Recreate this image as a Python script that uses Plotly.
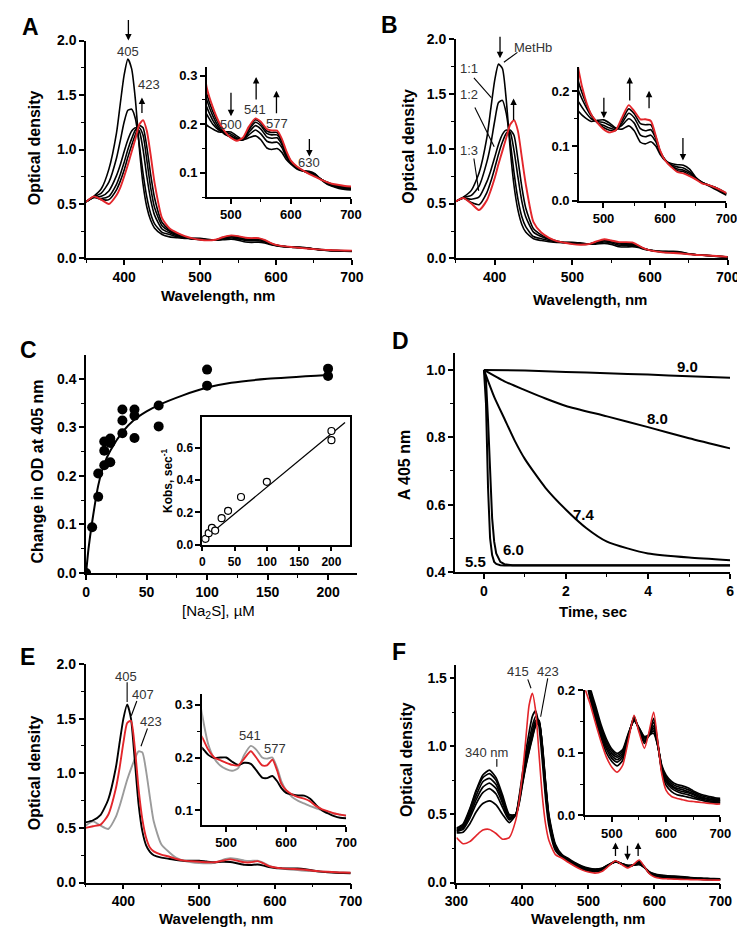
import plotly.graph_objects as go

W, H = 745, 930
FONT = "Liberation Sans, Arial, sans-serif"
RED = "#e3262b"
GRAY = "#9b9b9b"

# ---------------- data ----------------
WL = [350, 360, 370, 380, 390, 395, 400, 405, 410, 415, 420, 425, 430, 435, 440, 450,
      460, 470, 480, 490, 500, 510, 520, 530, 541, 550, 560, 568, 577, 585, 592,
      600, 610, 620, 630, 640, 650, 660, 670, 680, 690, 700]

# Panel A spectra (MetHb -> sulfide-bound)
A1 = [0.52, 0.57, 0.64, 0.82, 1.15, 1.42, 1.68, 1.83, 1.74, 1.45, 1.02, 0.68, 0.47, 0.35, 0.28, 0.22,
      0.198, 0.19, 0.184, 0.184, 0.184, 0.176, 0.168, 0.172, 0.176, 0.168, 0.151, 0.148, 0.150, 0.142, 0.128,
      0.118, 0.108, 0.104, 0.103, 0.098, 0.086, 0.077, 0.072, 0.068, 0.066, 0.065]
A2 = [0.52, 0.565, 0.60, 0.70, 0.92, 1.08, 1.25, 1.36, 1.37, 1.28, 1.05, 0.78, 0.56, 0.41, 0.32, 0.24,
      0.22, 0.20, 0.188, 0.183, 0.18, 0.172, 0.168, 0.178, 0.188, 0.18, 0.165, 0.162, 0.163, 0.152, 0.133,
      0.12, 0.109, 0.104, 0.102, 0.097, 0.087, 0.078, 0.073, 0.07, 0.068, 0.067]
A3 = [0.52, 0.56, 0.57, 0.62, 0.76, 0.86, 0.98, 1.09, 1.17, 1.20, 1.17, 1.00, 0.75, 0.54, 0.40, 0.27,
      0.235, 0.208, 0.19, 0.18, 0.176, 0.17, 0.168, 0.183, 0.197, 0.19, 0.174, 0.171, 0.172, 0.158, 0.137,
      0.121, 0.11, 0.104, 0.101, 0.095, 0.087, 0.079, 0.074, 0.071, 0.069, 0.068]
A4 = [0.52, 0.56, 0.55, 0.57, 0.68, 0.77, 0.88, 1.00, 1.10, 1.18, 1.20, 1.13, 0.90, 0.65, 0.47, 0.30,
      0.25, 0.217, 0.194, 0.179, 0.174, 0.168, 0.168, 0.188, 0.204, 0.197, 0.181, 0.178, 0.178, 0.163, 0.14,
      0.122, 0.111, 0.104, 0.10, 0.094, 0.087, 0.08, 0.075, 0.072, 0.07, 0.069]
A5 = [0.52, 0.565, 0.54, 0.54, 0.63, 0.71, 0.81, 0.93, 1.04, 1.14, 1.22, 1.20, 1.02, 0.77, 0.56, 0.33,
      0.262, 0.226, 0.20, 0.181, 0.173, 0.167, 0.17, 0.192, 0.209, 0.202, 0.186, 0.183, 0.183, 0.167, 0.143,
      0.124, 0.112, 0.104, 0.099, 0.093, 0.087, 0.081, 0.076, 0.073, 0.071, 0.07]
A6 = [0.52, 0.57, 0.54, 0.50, 0.58, 0.65, 0.75, 0.86, 0.98, 1.10, 1.23, 1.27, 1.17, 0.95, 0.70, 0.37,
      0.275, 0.235, 0.205, 0.185, 0.172, 0.166, 0.172, 0.195, 0.212, 0.205, 0.19, 0.187, 0.187, 0.17, 0.146,
      0.125, 0.113, 0.105, 0.098, 0.092, 0.086, 0.081, 0.077, 0.075, 0.073, 0.072]

# Panel B spectra (MetHb, 1:1, 1:2, 1:3, final)
B1 = [0.52, 0.56, 0.62, 0.78, 1.10, 1.36, 1.62, 1.77, 1.73, 1.44, 1.00, 0.66, 0.44, 0.31, 0.24, 0.18,
      0.163, 0.152, 0.145, 0.147, 0.148, 0.142, 0.133, 0.131, 0.137, 0.128, 0.107, 0.104, 0.108, 0.10, 0.085,
      0.074, 0.068, 0.066, 0.065, 0.058, 0.043, 0.034, 0.028, 0.022, 0.016, 0.01]
B2 = [0.52, 0.555, 0.575, 0.66, 0.88, 1.04, 1.25, 1.42, 1.44, 1.32, 1.07, 0.78, 0.54, 0.38, 0.29, 0.20,
      0.18, 0.163, 0.15, 0.145, 0.143, 0.138, 0.132, 0.138, 0.15, 0.142, 0.12, 0.117, 0.12, 0.108, 0.089,
      0.075, 0.066, 0.062, 0.06, 0.053, 0.042, 0.034, 0.029, 0.024, 0.018, 0.012]
B3 = [0.52, 0.55, 0.54, 0.56, 0.70, 0.80, 0.92, 1.04, 1.13, 1.17, 1.15, 0.98, 0.74, 0.52, 0.38, 0.24,
      0.20, 0.175, 0.155, 0.143, 0.138, 0.133, 0.13, 0.142, 0.16, 0.152, 0.132, 0.128, 0.13, 0.114, 0.09,
      0.075, 0.064, 0.058, 0.056, 0.05, 0.041, 0.033, 0.029, 0.025, 0.019, 0.013]
B4 = [0.52, 0.55, 0.51, 0.49, 0.60, 0.70, 0.82, 0.95, 1.06, 1.14, 1.17, 1.12, 0.90, 0.65, 0.46, 0.27,
      0.215, 0.183, 0.158, 0.143, 0.134, 0.129, 0.129, 0.147, 0.168, 0.159, 0.141, 0.139, 0.139, 0.117, 0.091,
      0.075, 0.063, 0.055, 0.053, 0.047, 0.04, 0.033, 0.029, 0.025, 0.02, 0.013]
B5 = [0.52, 0.55, 0.50, 0.44, 0.53, 0.62, 0.73, 0.86, 0.98, 1.10, 1.22, 1.26, 1.16, 0.92, 0.68, 0.33,
      0.236, 0.188, 0.158, 0.143, 0.131, 0.125, 0.129, 0.152, 0.175, 0.164, 0.149, 0.149, 0.146, 0.119, 0.092,
      0.074, 0.062, 0.053, 0.05, 0.045, 0.039, 0.032, 0.029, 0.025, 0.02, 0.014]

# Panel C: titration and Kobs
C_x = [0, 5, 10, 10, 15, 15, 15, 20, 20, 20, 30, 30, 30, 40, 40, 40, 60, 60, 100, 100, 200, 200]
C_y = [0.0, 0.094, 0.157, 0.205, 0.222, 0.252, 0.271, 0.228, 0.268, 0.277, 0.288, 0.314, 0.337,
       0.278, 0.324, 0.337, 0.302, 0.345, 0.419, 0.386, 0.421, 0.406]
C_fit_x = [0, 2, 5, 10, 15, 20, 30, 40, 50, 60, 80, 100, 120, 150, 200]
C_fit_y = [0.0, 0.05, 0.105, 0.18, 0.225, 0.252, 0.29, 0.316, 0.333, 0.346, 0.366, 0.382, 0.392, 0.40, 0.408]
Ci_x = [5, 10, 15, 20, 30, 40, 60, 100, 200, 200]
Ci_y = [0.037, 0.072, 0.104, 0.088, 0.165, 0.21, 0.296, 0.39, 0.705, 0.648]
Ci_fit_x = [0, 221]
Ci_fit_y = [0.026, 0.758]

# Panel D: kinetics at different pH
D_t90 = [0, 1, 2, 3, 4, 5, 6]
D_y90 = [1.0, 0.998, 0.994, 0.99, 0.986, 0.981, 0.977]
D_t80 = [0, 0.5, 1, 1.5, 2, 3, 4, 5, 6]
D_y80 = [1.0, 0.966, 0.94, 0.915, 0.893, 0.862, 0.83, 0.797, 0.767]
D_t74 = [0, 0.25, 0.5, 0.75, 1, 1.5, 2, 2.5, 3, 3.5, 4, 5, 6]
D_y74 = [1.0, 0.92, 0.855, 0.79, 0.735, 0.65, 0.585, 0.53, 0.49, 0.47, 0.455, 0.443, 0.435]
D_tfast = [0, 0.05, 0.1, 0.15, 0.2, 0.25, 0.3, 0.4, 0.5, 0.7, 1, 2, 3, 4, 5, 6]
D_y60 = [1.0, 0.97, 0.85, 0.68, 0.56, 0.49, 0.455, 0.43, 0.423, 0.42, 0.42, 0.421, 0.421, 0.42, 0.42, 0.42]
D_y55 = [1.0, 0.90, 0.65, 0.50, 0.45, 0.43, 0.424, 0.42, 0.419, 0.419, 0.419, 0.42, 0.42, 0.419, 0.419, 0.419]
D_labels = ["9.0", "8.0", "7.4", "6.0", "5.5"]

# Panel E spectra
E_black = [0.55, 0.57, 0.62, 0.76, 1.05, 1.28, 1.50, 1.63, 1.50, 1.12, 0.72, 0.47, 0.34, 0.28, 0.25, 0.228,
           0.218, 0.205, 0.199, 0.20, 0.20, 0.192, 0.186, 0.19, 0.188, 0.176, 0.162, 0.161, 0.165, 0.155, 0.142,
           0.133, 0.13, 0.128, 0.128, 0.122, 0.11, 0.10, 0.094, 0.089, 0.086, 0.085]
E_red = [0.50, 0.515, 0.53, 0.62, 0.86, 1.05, 1.28, 1.46, 1.48, 1.24, 0.86, 0.58, 0.41, 0.32, 0.285, 0.255,
         0.238, 0.215, 0.20, 0.195, 0.19, 0.186, 0.185, 0.198, 0.212, 0.20, 0.185, 0.185, 0.196, 0.175, 0.15,
         0.138, 0.13, 0.125, 0.122, 0.117, 0.108, 0.102, 0.098, 0.094, 0.092, 0.09]
E_gray = [0.52, 0.56, 0.52, 0.49, 0.60, 0.70, 0.82, 0.94, 1.04, 1.13, 1.20, 1.19, 1.02, 0.78, 0.56, 0.35,
          0.28, 0.225, 0.198, 0.185, 0.178, 0.175, 0.18, 0.205, 0.222, 0.215, 0.20, 0.198, 0.20, 0.18, 0.155,
          0.138, 0.125, 0.118, 0.113, 0.108, 0.104, 0.10, 0.097, 0.094, 0.092, 0.09]

# Panel F spectra
WL_F = [300, 310, 320, 330, 340, 350, 360, 370, 380, 390, 395, 400, 405, 410, 415, 420, 425, 430, 435, 440, 450,
        460, 470, 480, 490, 500, 510, 520, 530, 541, 550, 560, 568, 577, 585, 592,
        600, 610, 620, 630, 640, 650, 660, 670, 680, 690, 700]
F1 = [0.40, 0.43, 0.54, 0.68, 0.79, 0.825, 0.77, 0.64, 0.50, 0.50, 0.58, 0.72, 0.85, 0.96, 1.06, 1.15, 1.17, 1.02, 0.74, 0.50, 0.28,
      0.205, 0.175, 0.145, 0.122, 0.106, 0.099, 0.105, 0.13, 0.151, 0.14, 0.126, 0.128, 0.131, 0.11, 0.08,
      0.064, 0.054, 0.049, 0.047, 0.044, 0.039, 0.035, 0.032, 0.03, 0.028, 0.027]
F2 = [0.395, 0.42, 0.53, 0.67, 0.77, 0.80, 0.75, 0.62, 0.49, 0.50, 0.59, 0.73, 0.86, 0.97, 1.07, 1.16, 1.18, 1.01, 0.73, 0.49, 0.27,
      0.20, 0.17, 0.141, 0.118, 0.103, 0.096, 0.102, 0.128, 0.152, 0.14, 0.124, 0.127, 0.135, 0.11, 0.078,
      0.061, 0.051, 0.046, 0.044, 0.041, 0.037, 0.033, 0.03, 0.028, 0.026, 0.025]
F3 = [0.385, 0.41, 0.51, 0.64, 0.74, 0.765, 0.72, 0.60, 0.48, 0.50, 0.60, 0.74, 0.87, 0.99, 1.09, 1.17, 1.19, 1.00, 0.72, 0.48, 0.265,
      0.197, 0.166, 0.137, 0.114, 0.099, 0.093, 0.099, 0.127, 0.153, 0.139, 0.122, 0.127, 0.139, 0.11, 0.076,
      0.058, 0.048, 0.043, 0.041, 0.038, 0.035, 0.031, 0.028, 0.026, 0.025, 0.024]
F4 = [0.38, 0.40, 0.49, 0.61, 0.70, 0.73, 0.69, 0.58, 0.47, 0.50, 0.61, 0.75, 0.89, 1.01, 1.11, 1.19, 1.19, 0.99, 0.70, 0.47, 0.26,
      0.193, 0.162, 0.133, 0.11, 0.095, 0.089, 0.096, 0.126, 0.154, 0.138, 0.12, 0.127, 0.143, 0.111, 0.074,
      0.056, 0.046, 0.041, 0.038, 0.036, 0.033, 0.029, 0.027, 0.025, 0.024, 0.023]
F5 = [0.375, 0.39, 0.47, 0.58, 0.66, 0.69, 0.65, 0.55, 0.46, 0.50, 0.62, 0.77, 0.92, 1.04, 1.15, 1.22, 1.18, 0.96, 0.67, 0.45, 0.25,
      0.19, 0.158, 0.129, 0.106, 0.091, 0.085, 0.093, 0.125, 0.156, 0.137, 0.118, 0.128, 0.149, 0.112, 0.072,
      0.053, 0.043, 0.038, 0.035, 0.033, 0.03, 0.027, 0.025, 0.023, 0.022, 0.021]
F6 = [0.365, 0.37, 0.43, 0.52, 0.58, 0.60, 0.57, 0.50, 0.44, 0.50, 0.63, 0.80, 0.96, 1.10, 1.22, 1.26, 1.15, 0.90, 0.62, 0.42, 0.235,
      0.186, 0.153, 0.124, 0.10, 0.086, 0.079, 0.088, 0.123, 0.158, 0.136, 0.115, 0.129, 0.155, 0.114, 0.07,
      0.048, 0.038, 0.033, 0.031, 0.029, 0.027, 0.025, 0.023, 0.021, 0.02, 0.02]
F7 = [0.33, 0.285, 0.30, 0.345, 0.385, 0.39, 0.36, 0.318, 0.33, 0.46, 0.60, 0.80, 1.05, 1.30, 1.39, 1.26, 0.95, 0.64, 0.43, 0.31, 0.205,
      0.178, 0.147, 0.118, 0.093, 0.077, 0.069, 0.08, 0.118, 0.16, 0.133, 0.107, 0.131, 0.165, 0.115, 0.066,
      0.04, 0.03, 0.027, 0.025, 0.023, 0.022, 0.021, 0.02, 0.019, 0.018, 0.018]


# ---------------- helpers ----------------
def fx(p):
    return p / W


def fy(p):
    return 1 - p / H


def axis(px0, px1, rng, tickvals, fmt=None, minor=None, size=14, mirror=False, anchor=None, vertical=False):
    if vertical:
        dom = [fy(px1), fy(px0)]
    else:
        dom = [fx(px0), fx(px1)]
    d = dict(domain=dom, range=rng, tickvals=tickvals, showgrid=False, zeroline=False,
             showline=True, linecolor="black", linewidth=1.5, mirror=mirror,
             ticks="outside", ticklen=5, tickwidth=1.5, tickcolor="black",
             tickfont=dict(family=FONT, size=size, color="black", weight="bold"),
             fixedrange=True, anchor=anchor)
    if fmt:
        d["tickformat"] = fmt
    if minor:
        d["minor"] = dict(tick0=minor[0], dtick=minor[1], ticks="outside", ticklen=3,
                          tickwidth=1.2, tickcolor="black")
    return d


fig = go.Figure()


def line(x, y, ax, color="black", width=1.6, shape="spline"):
    fig.add_trace(go.Scatter(x=x, y=y, mode="lines", xaxis="x" + ax, yaxis="y" + ax,
                             line=dict(color=color, width=width, shape=shape, smoothing=0.6),
                             hoverinfo="skip"))


# Panel A (main '' and inset '2')
for ax in ["", "2"]:
    for c in [A1, A2, A3, A4, A5]:
        line(WL, c, ax)
    line(WL, A6, ax, RED, 1.9)
# Panel B
for ax in ["3", "4"]:
    for c in [B1, B2, B3, B4]:
        line(WL, c, ax)
    line(WL, B5, ax, RED, 1.9)
# Panel C
line(C_fit_x, C_fit_y, "5", width=2)
fig.add_trace(go.Scatter(x=C_x, y=C_y, mode="markers", xaxis="x5", yaxis="y5",
                         marker=dict(color="black", size=10), hoverinfo="skip"))
line(Ci_fit_x, Ci_fit_y, "6", width=1.3, shape="linear")
fig.add_trace(go.Scatter(x=Ci_x, y=Ci_y, mode="markers", xaxis="x6", yaxis="y6",
                         marker=dict(color="white", size=7, line=dict(color="black", width=1.2)),
                         hoverinfo="skip"))
# Panel D
line(D_t90, D_y90, "7", width=2)
line(D_t80, D_y80, "7", width=2)
line(D_t74, D_y74, "7", width=2)
line(D_tfast, D_y60, "7", width=2, shape="linear")
line(D_tfast, D_y55, "7", width=2, shape="linear")
# Panel E
for ax in ["8", "9"]:
    line(WL, E_gray, ax, GRAY, 1.9)
    line(WL, E_black, ax, "black", 1.9)
    line(WL, E_red, ax, RED, 1.9)
# Panel F
for ax in ["10", "11"]:
    for c in [F1, F2, F3, F4, F5, F6]:
        line(WL_F, c, ax, "black", 1.7)
    line(WL_F, F7, ax, RED, 1.6)

ODT = [0, 0.5, 1.0, 1.5, 2.0]
layout = dict(
    width=W, height=H, margin=dict(l=0, r=0, t=0, b=0), showlegend=False,
    plot_bgcolor="rgba(0,0,0,0)", paper_bgcolor="white",
    # A
    xaxis=axis(68.3, 343, [350, 700], [400, 500, 600, 700], minor=(350, 50), anchor="y"),
    yaxis=axis(25, 246.7, [0, 2.0], ODT, ".1f", minor=(0, 0.25), anchor="x", vertical=True),
    xaxis2=axis(193, 342, [460, 700], [500, 600, 700], minor=(450, 50), size=13, anchor="y2"),
    yaxis2=axis(51.7, 184.3, [0.05, 0.318], [0.1, 0.2, 0.3], ".1f", minor=(0.05, 0.05), size=13,
                anchor="x2", vertical=True),
    # B
    xaxis3=axis(450.3, 731.3, [350, 700], [400, 500, 600, 700], minor=(350, 50), anchor="y3"),
    yaxis3=axis(23.3, 246.7, [0, 2.0], ODT, ".1f", minor=(0, 0.25), anchor="x3", vertical=True),
    xaxis4=axis(577.5, 730, [460, 700], [500, 600, 700], minor=(450, 50), size=13, anchor="y4"),
    yaxis4=axis(51.7, 188, [0, 0.245], [0.0, 0.1, 0.2], ".1f", minor=(0.05, 0.1), size=13,
                anchor="x4", vertical=True),
    # C
    xaxis5=axis(68.3, 348.3, [0, 224], [0, 50, 100, 150, 200], minor=(25, 50), anchor="y5"),
    yaxis5=axis(345, 566.7, [0, 0.449], [0, 0.1, 0.2, 0.3, 0.4], ".1f", minor=(0.05, 0.1),
                anchor="x5", vertical=True),
    xaxis6=axis(188.3, 340.5, [0, 228], [0, 50, 100, 150, 200], size=12, mirror=True, anchor="y6"),
    yaxis6=axis(408.3, 538, [0, 0.79], [0, 0.2, 0.4, 0.6], ".1f", size=12, mirror=True,
                anchor="x6", vertical=True),
    # D
    xaxis7=axis(449.7, 733.7, [-0.7, 6], [0, 2, 4, 6], minor=(1, 2), anchor="y7"),
    yaxis7=axis(343.3, 565.7, [0.4, 1.049], [0.4, 0.6, 0.8, 1.0], ".1f", minor=(0.5, 0.2),
                anchor="x7", vertical=True),
    # E
    xaxis8=axis(67.7, 341.7, [350, 700], [400, 500, 600, 700], minor=(350, 50), anchor="y8"),
    yaxis8=axis(659.3, 881.7, [0, 2.0], ODT, ".1f", minor=(0, 0.25), anchor="x8", vertical=True),
    xaxis9=axis(188.3, 337, [460, 700], [500, 600, 700], minor=(450, 50), size=13, anchor="y9"),
    yaxis9=axis(690, 823.3, [0.072, 0.32], [0.1, 0.2, 0.3], ".1f", minor=(0.05, 0.1), size=13,
                anchor="x9", vertical=True),
    # F
    xaxis10=axis(451, 723.7, [300, 700], [300, 400, 500, 600, 700], minor=(350, 100), anchor="y10"),
    yaxis10=axis(660, 881.7, [0, 1.6], [0, 0.5, 1.0, 1.5], ".1f", minor=(0.25, 0.5),
                 anchor="x10", vertical=True),
    xaxis11=axis(583.5, 723.7, [450, 700], [500, 600, 700], minor=(450, 50), size=13, anchor="y11"),
    yaxis11=axis(686, 813.3, [0, 0.2], [0.0, 0.1, 0.2], ".1f", minor=(0.05, 0.1), size=13,
                 anchor="x11", vertical=True),
)

ann = []
shapes = []


def text(x, y, s, size=13, bold=False, color="#333333", angle=0):
    ann.append(dict(x=fx(x), y=fy(y), xref="paper", yref="paper", text=s, showarrow=False,
                    xanchor="center", yanchor="middle", textangle=angle,
                    font=dict(family=FONT, size=size, color=color, weight="bold" if bold else "normal")))


def arrow(x, y_tail, y_tip):
    ann.append(dict(x=fx(x), y=fy(y_tip), xref="paper", yref="paper", text="", showarrow=True,
                    ax=0, ay=y_tail - y_tip, arrowhead=2, arrowsize=1, arrowwidth=1.3,
                    arrowcolor="black"))


def seg(x0, y0, x1, y1):
    shapes.append(dict(type="line", xref="paper", yref="paper", x0=fx(x0), y0=fy(y0),
                       x1=fx(x1), y1=fy(y1), line=dict(color="black", width=1.1)))


# panel letters
for L, x, y in [("A", 11, 11), ("B", 382, 9), ("C", 9, 340), ("D", 393, 331), ("E", 8, 652), ("F", 392, 647)]:
    text(x, y, L, size=23, bold=True, color="black")

# axis titles
TS = 15
for x, y in [(15, 134), (402, 133), (15, 770), (400, 757)]:
    text(x, y, "Optical density", size=TS + 1, bold=True, color="black", angle=-90)
text(205, 284, "Wavelength, nm", size=TS, bold=True, color="black")
text(589, 288, "Wavelength, nm", size=TS, bold=True, color="black")
text(203, 918, "Wavelength, nm", size=TS, bold=True, color="black")
text(587, 918, "Wavelength, nm", size=TS, bold=True, color="black")
text(18, 463, "Change in OD at 405 nm", size=TS + 1, bold=True, color="black", angle=-90)
text(205, 606, "[Na<sub>2</sub>S], µM", size=TS, bold=False, color="black")
text(152, 473, "Kobs, sec<sup>-1</sup>", size=12, bold=True, color="black", angle=-90)
text(397, 457, "A 405 nm", size=TS + 1, bold=True, color="black", angle=-90)
text(592, 606, "Time, sec", size=TS, bold=True, color="black")

# Panel A annotations
arrow(112, 3, 25)
text(112, 36, "405")
text(133, 70, "423")
arrow(126, 100, 83)
arrow(218, 77, 102)
text(218, 110, "500")
arrow(244, 86, 62)
text(243, 95, "541")
arrow(265, 100, 76)
text(266, 109, "577")
arrow(299, 124, 143)
text(299, 149, "630")

# Panel B annotations
arrow(496, 20, 43)
text(530, 32, "MetHb")
seg(514, 37, 500, 47)
text(464, 53, "1:1")
seg(469, 63, 487, 83)
text(464, 80, "1:2")
seg(470, 93, 490, 133)
text(464, 137, "1:3")
seg(469, 145, 474, 178)
arrow(510, 107, 84)
arrow(603.3, 82, 104)
arrow(630, 87, 62)
arrow(650, 95, 76)
arrow(685, 123, 147)

# Panel D labels
for s, x, y in zip(D_labels, [690, 659, 583, 510, 471], [357, 410, 507, 543, 555]):
    text(x, y, s, size=15, bold=True, color="black")

# Panel E annotations
text(110, 672, "405")
seg(110.7, 678, 110.7, 698)
text(127, 690, "407")
seg(120.7, 697, 115, 712)
text(135, 718, "423")
seg(131.7, 725, 125, 743)
text(238, 732, "541")
text(263, 745, "577")

# Panel F annotations
text(515, 667, "415")
seg(524.7, 675, 528, 684)
text(546, 667, "423")
seg(545.3, 674, 538, 713)
text(482, 749, "340 nm")
seg(492.7, 756, 492.7, 764)
arrow(615.3, 856, 841)
arrow(627.7, 843, 859)
arrow(638.7, 856, 841)

layout["annotations"] = ann
layout["shapes"] = shapes
fig.update_layout(**layout)
fig.write_html("out.html")
